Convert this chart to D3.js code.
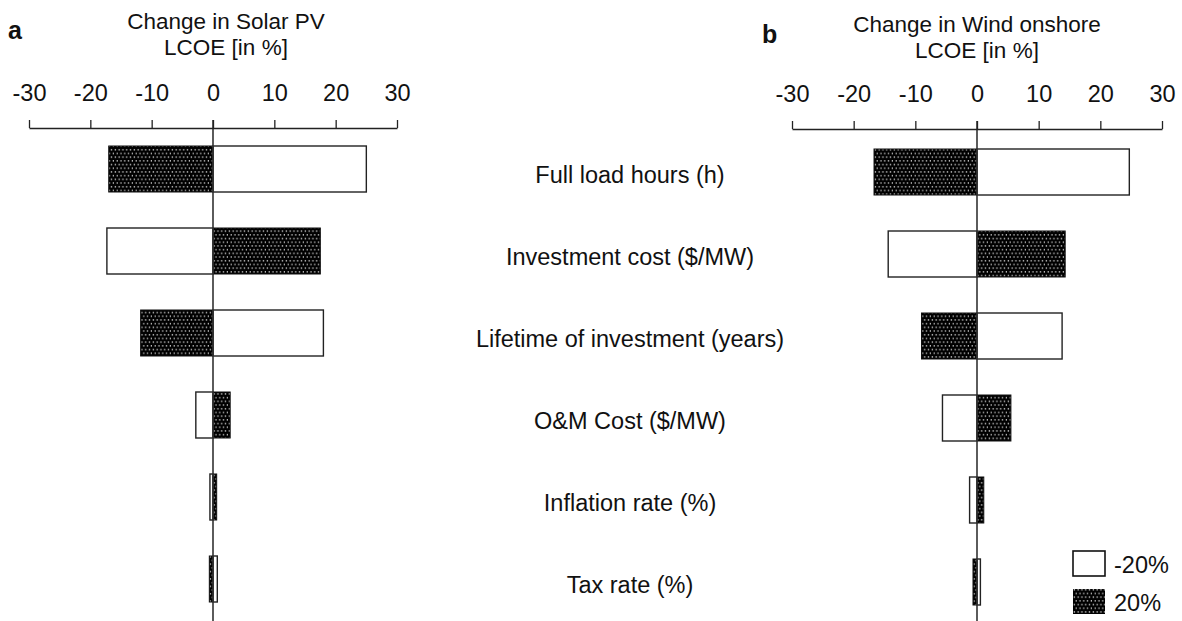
<!DOCTYPE html>
<html>
<head>
<meta charset="utf-8">
<title>LCOE sensitivity</title>
<style>
  body { margin: 0; background: #fff; }
  svg text { font-family: "Liberation Sans", Arial, sans-serif; fill: #111; }
</style>
</head>
<body>
<div id="chart"></div>
<script src="https://cdnjs.cloudflare.com/ajax/libs/d3/7.8.5/d3.min.js"></script>
<script>
// data
var categories = ["Full load hours (h)", "Investment cost ($/MW)", "Lifetime of investment (years)",
                  "O&M Cost ($/MW)", "Inflation rate (%)", "Tax rate (%)"];
var tickValues = [-30, -20, -10, 0, 10, 20, 30];
var tickLabels = ["-30", "-20", "-10", "0", "10", "20", "30"];
var seriesNames = ["-20%", "20%"];

var solarMinus20 = [25, -17.3, 18, -2.8, -0.5, 0.7];
var solarPlus20  = [-17, 17.5, -11.8, 2.8, 0.6, -0.6];
var windMinus20  = [24.7, -14.4, 13.8, -5.6, -1.2, 0.55];
var windPlus20   = [-16.7, 14.3, -9, 5.5, 1.1, -0.65];

var W = 1182, H = 621;
var svg = d3.select("#chart").append("svg").attr("width", W).attr("height", H);

// dotted fill used for the +20% bars
var pat = svg.append("defs").append("pattern")
    .attr("id", "dots").attr("patternUnits", "userSpaceOnUse")
    .attr("width", 3.8).attr("height", 7.4);
pat.append("rect").attr("width", 3.8).attr("height", 7.4).attr("fill", "#000");
pat.append("rect").attr("x", 0.7).attr("y", 1.1).attr("width", 1.3).attr("height", 1.3).attr("fill", "#e6e6e6");
pat.append("rect").attr("x", 2.6).attr("y", 4.8).attr("width", 1.3).attr("height", 1.3).attr("fill", "#e6e6e6");

function panel(opts) {
    var x = d3.scaleLinear().domain([-30, 30]).range(opts.xr);
    var y = d3.scaleBand().domain(categories)
              .range([opts.top, opts.top + 456]).paddingInner(0.439).paddingOuter(0);
    var g = svg.append("g");

    var rows = categories.map((c, i) => ({ c: c, minus: opts.minus[i], plus: opts.plus[i] }));

    g.selectAll(".minus").data(rows).enter().append("rect")
     .attr("class", "minus")
     .attr("x", d => x(Math.min(0, d.minus)))
     .attr("y", d => y(d.c))
     .attr("width", d => Math.abs(x(d.minus) - x(0)))
     .attr("height", y.bandwidth())
     .attr("fill", "#fff").attr("stroke", "#222").attr("stroke-width", 1.4);

    g.selectAll(".plus").data(rows).enter().append("rect")
     .attr("class", "plus")
     .attr("x", d => x(Math.min(0, d.plus)))
     .attr("y", d => y(d.c))
     .attr("width", d => Math.abs(x(d.plus) - x(0)))
     .attr("height", y.bandwidth())
     .attr("fill", "url(#dots)").attr("stroke", "#111").attr("stroke-width", 1);

    // zero line runs the full height, on top of the bars
    g.append("line")
     .attr("x1", x(0)).attr("x2", x(0))
     .attr("y1", opts.axisY - 8).attr("y2", H)
     .attr("stroke", "#333").attr("stroke-width", 1.6);

    var axis = d3.axisTop(x).tickValues(tickValues)
                 .tickFormat((d, i) => tickLabels[i])
                 .tickSize(8).tickSizeOuter(0).tickPadding(19);
    var ag = g.append("g").attr("transform", "translate(0," + opts.axisY + ")").call(axis);
    ag.select(".domain").attr("stroke", "#222").attr("stroke-width", 1.3);
    ag.selectAll(".tick line").attr("stroke", "#222").attr("stroke-width", 1.3);
    ag.selectAll(".tick text").attr("font-size", 23.5).attr("fill", "#111")
      .attr("font-family", "Liberation Sans, Arial, sans-serif");

    // titles
    g.append("text").attr("x", opts.titleX).attr("y", opts.titleY)
     .attr("text-anchor", "middle").attr("font-size", 22.5).text(opts.title1);
    g.append("text").attr("x", opts.titleX).attr("y", opts.titleY + 26)
     .attr("text-anchor", "middle").attr("font-size", 22.5).text("LCOE [in %]");
    g.append("text").attr("x", opts.letterX).attr("y", opts.letterY)
     .attr("font-size", 25).attr("font-weight", "bold").text(opts.letter);
    return y;
}

var ya = panel({ xr: [29, 397], top: 146, axisY: 128, minus: solarMinus20, plus: solarPlus20,
                 title1: "Change in Solar PV", titleX: 226, titleY: 29, letter: "a", letterX: 8, letterY: 39 });
panel({ xr: [792, 1162], top: 149, axisY: 129, minus: windMinus20, plus: windPlus20,
        title1: "Change in Wind onshore", titleX: 977, titleY: 32, letter: "b", letterX: 762, letterY: 43 });

// category labels in the middle
svg.append("g").selectAll("text").data(categories).enter().append("text")
   .attr("x", 630)
   .attr("y", d => ya(d) + ya.bandwidth() / 2 + 14)
   .attr("text-anchor", "middle").attr("font-size", 23.5)
   .text(d => d);

// legend
var leg = svg.append("g").attr("transform", "translate(1073,551)");
var legFill = ["#fff", "url(#dots)"];
seriesNames.forEach((s, i) => {
    leg.append("rect").attr("x", 0).attr("y", i * 38).attr("width", 32).attr("height", 25)
       .attr("fill", legFill[i]).attr("stroke", i ? "none" : "#111").attr("stroke-width", 1.6);
    leg.append("text").attr("x", 41).attr("y", i * 38 + 22).attr("font-size", 23.5).text(s);
});
</script>
</body>
</html>
